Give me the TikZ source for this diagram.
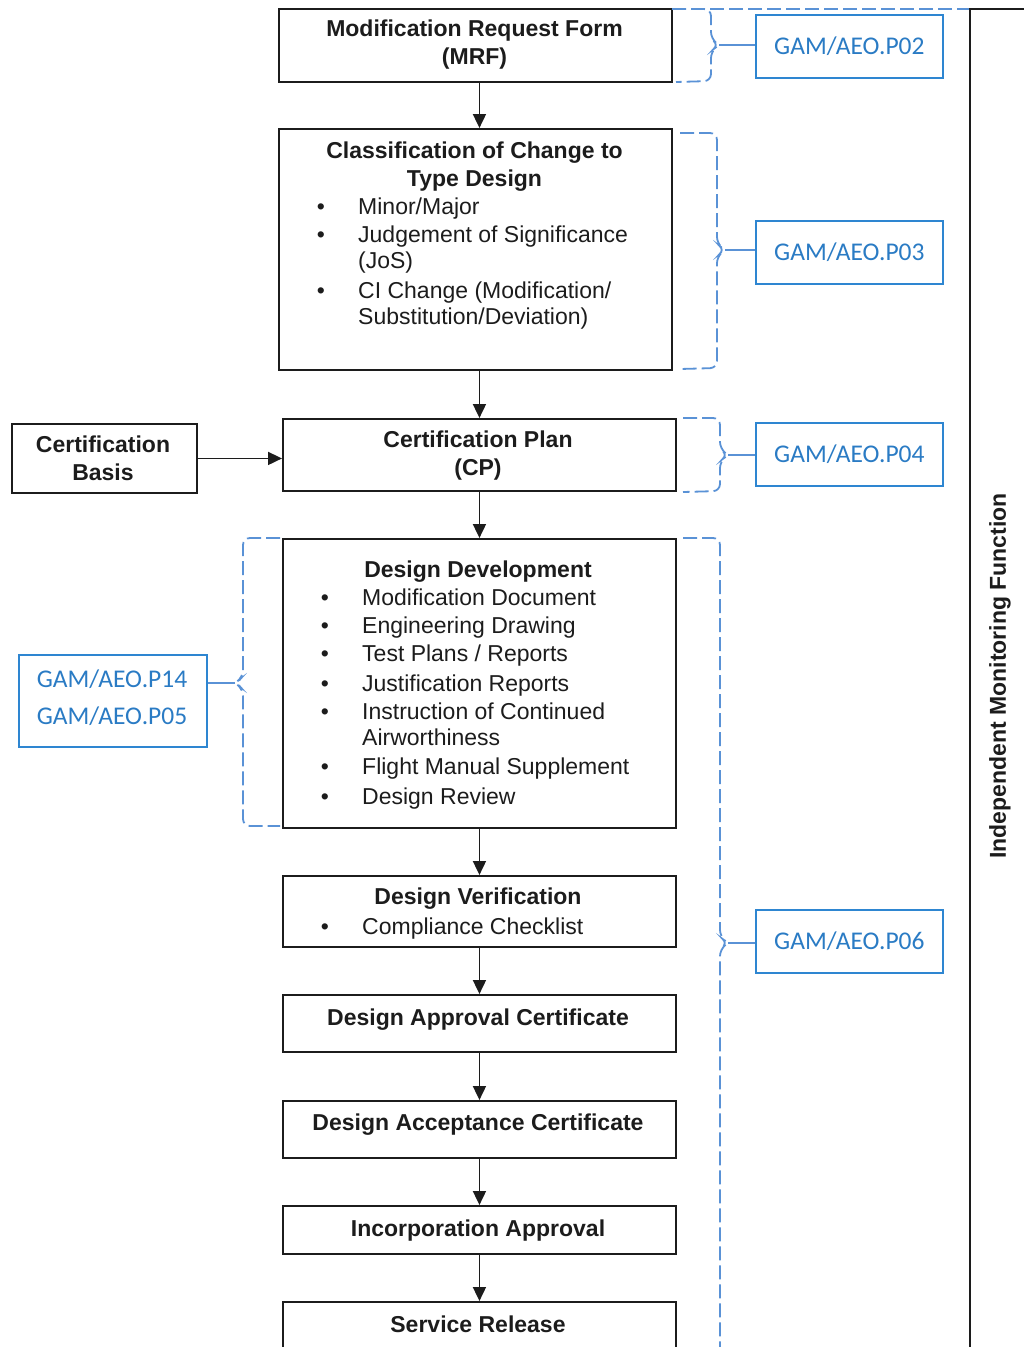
\documentclass[tikz,border=0pt]{standalone}
\usepackage{fontspec}
\setmainfont{Liberation Sans}
\newfontfamily\reffont{Carlito}
\usetikzlibrary{arrows.meta}
\definecolor{ink}{HTML}{1C1C1C}
\definecolor{refblue}{HTML}{2E86D1}
\definecolor{reftxt}{HTML}{2A7BC4}
\definecolor{refdash}{HTML}{5A92D6}
\tikzset{
  box/.style={draw=ink, line width=1.9pt, inner sep=0pt, anchor=north west},
  refbox/.style={draw=refblue, line width=1.7pt, inner sep=0pt, anchor=north west,
    minimum width=187pt, minimum height=63pt},
  flow/.style={draw=ink, line width=1.8pt, -{Triangle[length=14pt,width=13pt]}},
  bracket/.style={draw=refdash, line width=1.8pt, dash pattern=on 14pt off 5pt, rounded corners=7pt},
  tie/.style={draw=refdash, line width=1.8pt},
  title/.style={font=\fontsize{23}{28}\selectfont\bfseries, text=ink, inner sep=0pt, align=center},
  item/.style={font=\fontsize{23}{28}\selectfont, text=ink, inner sep=0pt, anchor=base west},
  bul/.style={font=\fontsize{23}{28}\selectfont, text=ink, inner sep=0pt, anchor=base},
  reftext/.style={font=\reffont\fontsize{25.5}{37}\selectfont, text=reftxt, inner sep=0pt, align=center}
}
\begin{document}
\begin{tikzpicture}[x=1pt,y=-1pt]
\useasboundingbox (0,0) rectangle (1024,1347);
\clip (0,0) rectangle (1024,1347);

% main flow boxes
\node[box, minimum width=393pt, minimum height=73pt]  (mrf) at (278,8) {};
\node[box, minimum width=393pt, minimum height=241pt] (cls) at (278,128) {};
\node[box, minimum width=393pt, minimum height=72pt]  (cp)  at (282,418) {};
\node[box, minimum width=185pt, minimum height=69pt]  (cb)  at (11,423) {};
\node[box, minimum width=393pt, minimum height=289pt] (dd)  at (282,538) {};
\node[box, minimum width=393pt, minimum height=71pt]  (dv)  at (282,875) {};
\node[box, minimum width=393pt, minimum height=57pt]  (dac) at (282,994) {};
\node[box, minimum width=393pt, minimum height=57pt]  (dcc) at (282,1100) {};
\node[box, minimum width=393pt, minimum height=48pt]  (ia)  at (282,1205) {};
\node[box, minimum width=393pt, minimum height=80pt]  (sr)  at (282,1301) {};

% monitoring function frame
\node[box, minimum width=120pt, minimum height=1400pt] (imf) at (969,8) {};
\node[title, rotate=90] (imft) at (1000,676) {Independent Monitoring Function};

% box texts
\node[title] (mrft) at (474.5,45) {Modification Request Form\\(MRF)};
\node[title] (clst) at (474.5,167) {Classification of Change to\\Type Design};
\node[bul] (cb1) at (321,214) {\textbullet};
\node[item] (ci1) at (358,214) {Minor/Major};
\node[bul] (cb2) at (321,242) {\textbullet};
\node[item] (ci2) at (358,242) {Judgement of Significance};
\node[item] (ci2b) at (358,268) {(JoS)};
\node[bul] (cb3) at (321,298) {\textbullet};
\node[item] (ci3) at (358,298) {CI Change (Modification/};
\node[item] (ci3b) at (358,324) {Substitution/Deviation)};

\node[title] (cpt) at (478,456) {Certification Plan\\(CP)};
\node[title] (cbt) at (103,458) {Certification\\Basis};

\node[title, anchor=base] (ddt) at (478,577) {Design Development};
\node[bul] (db1) at (325,605) {\textbullet};
\node[item] (di1) at (362,605) {Modification Document};
\node[bul] (db2) at (325,633) {\textbullet};
\node[item] (di2) at (362,633) {Engineering Drawing};
\node[bul] (db3) at (325,661) {\textbullet};
\node[item] (di3) at (362,661) {Test Plans / Reports};
\node[bul] (db4) at (325,691) {\textbullet};
\node[item] (di4) at (362,691) {Justification Reports};
\node[bul] (db5) at (325,719) {\textbullet};
\node[item] (di5) at (362,719) {Instruction of Continued};
\node[item] (di5b) at (362,745) {Airworthiness};
\node[bul] (db6) at (325,774) {\textbullet};
\node[item] (di6) at (362,774) {Flight Manual Supplement};
\node[bul] (db7) at (325,804) {\textbullet};
\node[item] (di7) at (362,804) {Design Review};

\node[title, anchor=base] (dvt) at (478,904) {Design Verification};
\node[bul] (vb1) at (325,934) {\textbullet};
\node[item] (vi1) at (362,934) {Compliance Checklist};

\node[title, anchor=base] (dact) at (478,1025) {Design Approval Certificate};
\node[title, anchor=base] (dcct) at (478,1130) {Design Acceptance Certificate};
\node[title, anchor=base] (iat)  at (478,1236) {Incorporation Approval};
\node[title, anchor=base] (srt)  at (478,1332) {Service Release};

% flow arrows
\draw[flow] (mrf.south -| cp.center) -- (cls.north -| cp.center);
\draw[flow] (cls.south -| cp.center) -- (cp.north);
\draw[flow] (cb.east) -- (cb.east -| cp.west);
\draw[flow] (cp.south) -- (dd.north);
\draw[flow] (dd.south) -- (dv.north);
\draw[flow] (dv.south) -- (dac.north);
\draw[flow] (dac.south) -- (dcc.north);
\draw[flow] (dcc.south) -- (ia.north);
\draw[flow] (ia.south) -- (sr.north);

% procedure references
\node[refbox] (p02) at (755,14)  {};
\node[reftext] (p02t) at (p02.center) {GAM/AEO.P02};
\node[refbox] (p03) at (755,220) {};
\node[reftext] (p03t) at (p03.center) {GAM/AEO.P03};
\node[refbox] (p04) at (755,422) {};
\node[reftext] (p04t) at (p04.center) {GAM/AEO.P04};
\node[refbox] (p06) at (755,909) {};
\node[reftext] (p06t) at (p06.center) {GAM/AEO.P06};
\node[refbox, minimum width=188pt, minimum height=92pt] (p14) at (18,654) {};
\node[reftext] (p14t) at (112,698) {GAM/AEO.P14\\GAM/AEO.P05};

% brackets grouping the steps
\draw[bracket] (672,9) -- (969,9);
\draw[bracket] (672,9) -- (711,9) -- (711,39) -- (719,45) -- (711,51) -- (711,81) -- (676,82);
\coordinate (k02) at (719,45);
\draw[tie] (k02) -- (k02 -| p02.west);

\draw[bracket] (680,133) -- (717,133) -- (717,244) -- (725,250) -- (717,256) -- (717,368) -- (680,369);
\coordinate (k03) at (725,250);
\draw[tie] (k03) -- (k03 -| p03.west);

\draw[bracket] (683,418) -- (720,418) -- (720,449) -- (728,455) -- (720,461) -- (720,491) -- (683,492);
\coordinate (k04) at (728,455);
\draw[tie] (k04) -- (k04 -| p04.west);

\draw[bracket] (683,538) -- (720,538) -- (720,937) -- (728,943) -- (720,949) -- (720,1380);
\coordinate (k06) at (728,943);
\draw[tie] (k06) -- (k06 -| p06.west);

\draw[bracket] (280,538) -- (243,538) -- (243,677) -- (235,683) -- (243,689) -- (243,826) -- (280,826);
\coordinate (k14) at (235,683);
\draw[tie] (k14) -- (k14 -| p14.east);
\end{tikzpicture}
\end{document}
